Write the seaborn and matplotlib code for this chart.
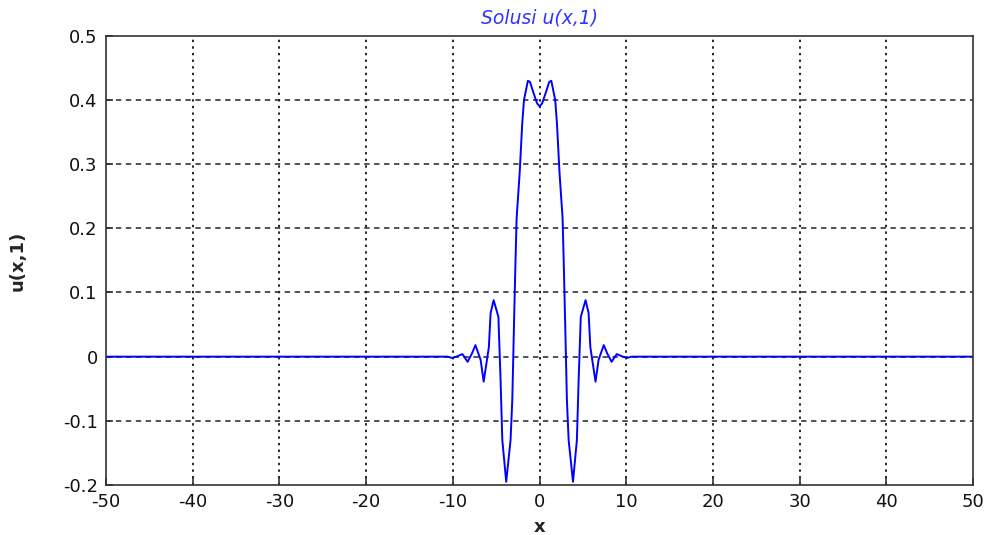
import numpy as np
import pandas as pd
import matplotlib
matplotlib.use("Agg")
import matplotlib.pyplot as plt
import seaborn as sns

# Right half of the curve (x >= 0); curve is mirrored for x < 0
x_right = [0.0, 0.3, 0.8, 1.1, 1.35, 1.8, 2.0, 2.3, 2.65, 2.8, 2.95, 3.15, 3.35, 3.85,
           4.3, 4.5, 4.75, 5.3, 5.65, 5.85, 6.45, 6.8, 7.4, 7.8, 8.3, 8.9, 9.6, 10.1, 10.6, 50.0]
u_right = [0.390, 0.395, 0.415, 0.428, 0.430, 0.400, 0.364, 0.286, 0.216, 0.138, 0.052, -0.068, -0.130, -0.195,
           -0.130, -0.037, 0.062, 0.088, 0.068, 0.015, -0.039, -0.005, 0.018, 0.005, -0.008, 0.004, 0.0, -0.002, 0.0, 0.0]

x_left = [-v for v in x_right[:0:-1]]
u_left = u_right[:0:-1]
x_vals = x_left + x_right
u_vals = u_left + u_right

x_ticks = [-50, -40, -30, -20, -10, 0, 10, 20, 30, 40, 50]
y_ticks = [-0.2, -0.1, 0, 0.1, 0.2, 0.3, 0.4, 0.5]
y_ticklabels = ["-0.2", "-0.1", "0", "0.1", "0.2", "0.3", "0.4", "0.5"]

df = pd.DataFrame({"x": x_vals, "u": u_vals})

sns.set_style("white")
plt.rcParams['font.family'] = ['DejaVu Sans']

fig = plt.figure(figsize=(9.91, 5.35), dpi=100)
ax = fig.add_axes([0.107, 0.0935, 0.875, 0.8395])

sns.lineplot(data=df, x="x", y="u", ax=ax, color="#0000ff", linewidth=1.4, sort=False, estimator=None)

ax.set_xlim(-50, 50)
ax.set_ylim(-0.2, 0.5)
ax.set_xticks(x_ticks)
ax.set_xticklabels([str(t) for t in x_ticks])
ax.set_yticks(y_ticks)
ax.set_yticklabels(y_ticklabels)

for t in x_ticks[1:-1]:
    ax.axvline(t, color="#222222", linestyle=(0, (1.2, 2.2)), linewidth=1.4, zorder=0)
for t in y_ticks[1:-1]:
    ax.axhline(t, color="#222222", linestyle=(0, (3.5, 3)), linewidth=1.1, zorder=0)

for s in ax.spines.values():
    s.set_visible(True)
    s.set_color("#333333")
    s.set_linewidth(1.2)

ax.tick_params(direction="in", length=5, width=1.2, color="#333333",
               labelsize=13, labelcolor="#111111", top=False, right=False,
               bottom=True, left=True, pad=6)

ax.set_xlabel("x", fontsize=13, fontweight="bold", labelpad=5)
ax.set_ylabel("u(x,1)", fontsize=13, fontweight="bold", labelpad=26)
ax.set_title("Solusi u(x,1)", fontsize=13.5, style="italic", color="#3333ff", pad=9)

fig.savefig("out.png", dpi=100, facecolor="white")
